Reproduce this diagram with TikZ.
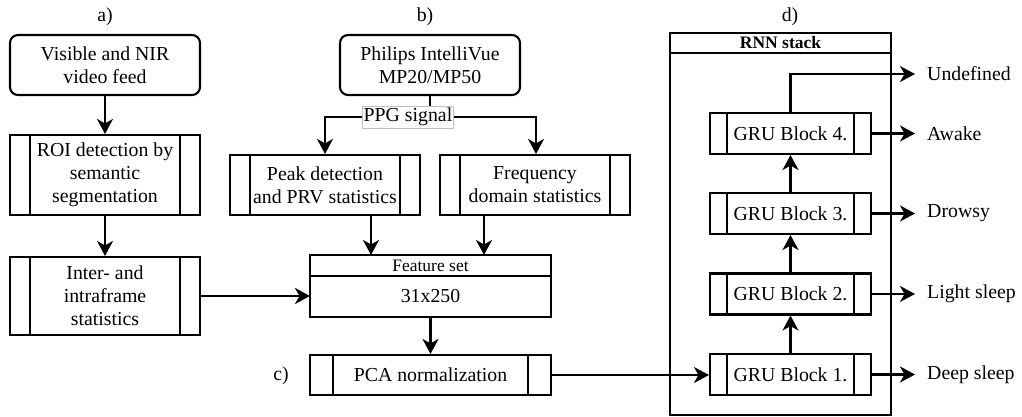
\documentclass[tikz,border=0pt]{standalone}
\usepackage{fontspec}
\setmainfont{Liberation Serif}
\usetikzlibrary{arrows.meta}
\begin{document}
\begin{tikzpicture}[x=1pt,y=-1pt,
  every node/.style={font=\fontsize{19.8}{23}\selectfont, align=center, inner sep=0pt},
  lw/.style={line width=2.1pt},
  arr/.style={lw, -{Stealth[length=15pt,width=16pt,inset=4.5pt]}},
  rbox/.style={draw, lw, rounded corners=8pt},
  plain/.style={draw, lw, outer sep=0pt},
  proc/.style={draw, lw, path picture={
      \draw[lw] ([xshift=#1]path picture bounding box.north west) -- ([xshift=#1]path picture bounding box.south west)
                ([xshift=-#1]path picture bounding box.north east) -- ([xshift=-#1]path picture bounding box.south east);}},
  proc/.default=20pt,
  outlbl/.style={anchor=west, inner xsep=12pt},
  panel/.style={}]
\useasboundingbox (0,0) rectangle (1022,417);

% panel letters
\node[panel] (la) at (105,17) {a)};
\node[panel] (lb) at (425,17) {b)};
\node[panel] (lc) at (281,376) {c)};
\node[panel] (ld) at (790,17) {d)};

% a) video branch
\node[rbox, minimum width=190pt, minimum height=60pt] (vis) at (105,65) {Visible and NIR\\video feed};
\node[proc, minimum width=190pt, minimum height=80pt] (roi) at (105,175) {ROI detection by\\semantic\\segmentation};
\node[proc, minimum width=190pt, minimum height=78pt] (inter) at (105,296) {Inter- and\\intraframe\\statistics};

% b) PPG branch
\node[rbox, minimum width=180pt, minimum height=60pt] (phil) at (430,65) {Philips IntelliVue\\MP20/MP50};
\node[proc, minimum width=190pt, minimum height=60pt] (peak) at (325,185) {Peak detection\\and PRV statistics};
\node[proc, minimum width=190pt, minimum height=60pt] (freq) at (535,185) {Frequency\\domain statistics};
\node[plain, minimum width=241pt, minimum height=21pt, font=\fontsize{17.5}{20}\selectfont] (fhead) at (430.5,265.5) {Feature set};
\node[plain, minimum width=241pt, minimum height=41pt, anchor=north] (fbody) at (fhead.south) {31x250};

% c) normalization
\node[proc=23pt, minimum width=241pt, minimum height=40pt] (pca) at (430.5,375) {PCA normalization};

% d) recurrent stack
\node[plain, minimum width=221pt, minimum height=20pt, font=\fontsize{17.5}{20}\selectfont\bfseries] (rhead) at (780.5,43) {RNN stack};
\node[plain, minimum width=221pt, minimum height=362pt, anchor=north] (rbody) at (rhead.south) {};
\foreach \i/\yy in {1/374.5,2/294,3/213.5,4/133.5}{
  \node[proc=17pt, minimum width=161pt, minimum height=41pt] (gru\i) at (790.5,\yy) {GRU Block \i.};
}
\node[outlbl] (o1) at (915,374.5) {Deep sleep};
\node[outlbl] (o2) at (915,294) {Light sleep};
\node[outlbl] (o3) at (915,213.5) {Drowsy};
\node[outlbl] (o4) at (915,133.5) {Awake};
\node[outlbl] (o5) at (915,74) {Undefined};

% connectors
\draw[arr] (vis) -- (roi);
\draw[arr] (roi) -- (inter);
\draw[arr] (inter.east) -- (fbody.west |- inter.east);
\node[draw=black!25, line width=0.6pt, fill=white, inner xsep=1.5pt, inner ysep=2pt] (ppg) at (408,117) {PPG signal};
\draw[lw] (phil.south) -- (phil.south |- ppg.north);
\draw[arr] (ppg.west) -| (peak.north);
\draw[arr] (ppg.east) -| ([xshift=1pt]freq.north);
\draw[arr] ([xshift=46pt]peak.south) -- ([xshift=46pt]peak.south |- fhead.north);
\draw[arr] ([xshift=-51pt]freq.south) -- ([xshift=-51pt]freq.south |- fhead.north);
\draw[arr] (fbody) -- (pca);
\draw[arr] (pca.east) -- (gru1.west |- pca.east);
\draw[arr] (gru1) -- (gru2);
\draw[arr] (gru2) -- (gru3);
\draw[arr] (gru3) -- (gru4);
\foreach \i in {1,...,4}{ \draw[arr] (gru\i.east) -- (o\i.west); }
\draw[arr] (gru4.north) |- (o5.west);
\end{tikzpicture}
\end{document}
